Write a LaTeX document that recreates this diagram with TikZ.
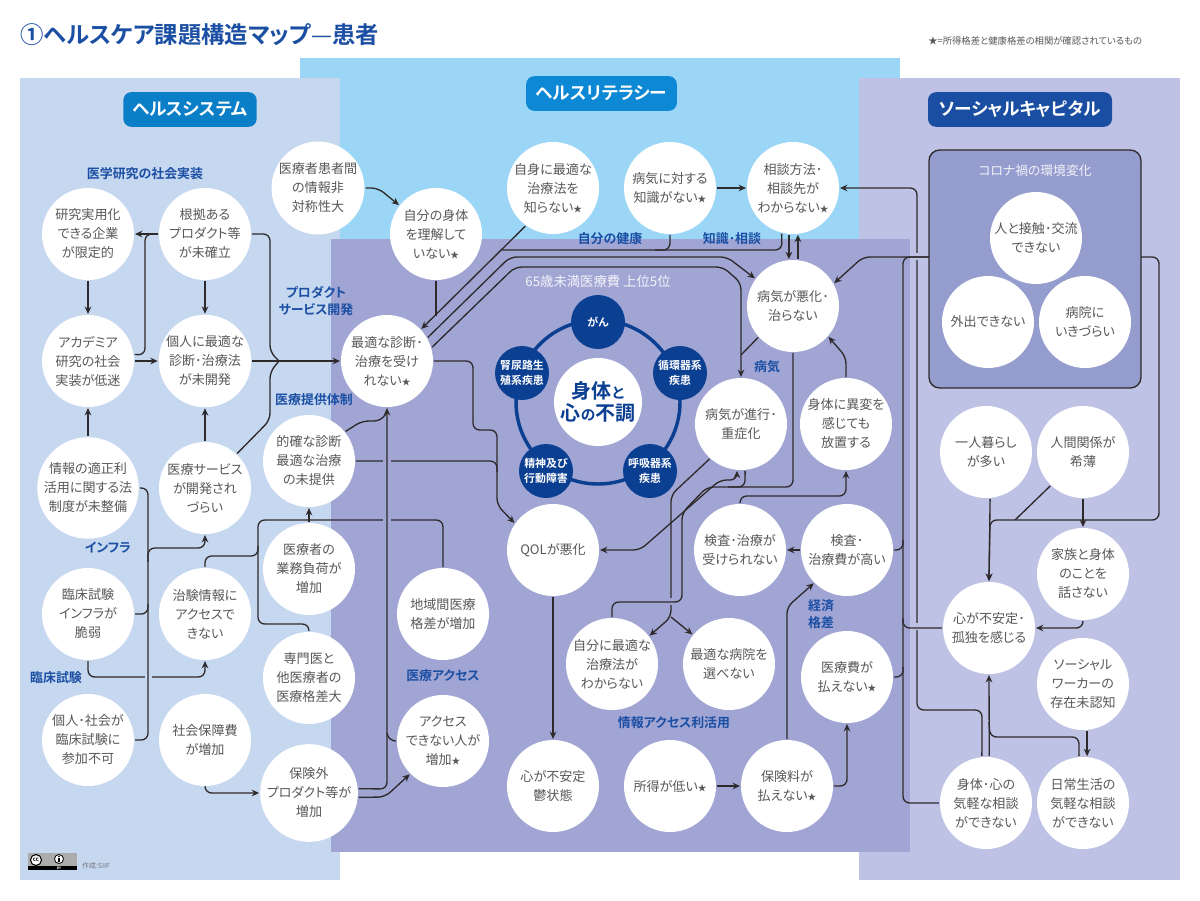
\documentclass[tikz,border=0pt]{standalone}
\usepackage{fontspec}
\setmainfont{Noto Sans CJK JP}[BoldFont={Noto Sans CJK JP Bold},RawFeature={+palt}]
\usetikzlibrary{arrows.meta,calc}
\definecolor{bghealth}{HTML}{C6D7F0}
\definecolor{bgliter}{HTML}{9BD6F6}
\definecolor{bgsocial}{HTML}{BEC2E4}
\definecolor{bgcenter}{HTML}{A1A5D4}
\definecolor{boxfill}{HTML}{959CCE}
\definecolor{cline}{HTML}{2E2A2B}
\definecolor{txt}{HTML}{595757}
\definecolor{lab}{HTML}{1B4FA3}
\definecolor{deep}{HTML}{0B3F92}
\definecolor{HeadA}{HTML}{0A7EC6}
\definecolor{HeadB}{HTML}{0D88D4}
\definecolor{HeadC}{HTML}{1A4EA2}
\newcommand{\rstar}{{\fontsize{6.5}{6.5}\selectfont ★}}
\tikzset{
 rnode/.style={circle,fill=white,text=txt,minimum size=69pt,inner sep=0pt,outer sep=.8pt,align=center,font=\fontsize{9.8}{14.25}\selectfont},
 dnode/.style={circle,fill=deep,text=white,minimum size=40.5pt,inner sep=0pt,align=center,font=\fontsize{8.2}{11.5}\selectfont\bfseries},
 lbl/.style={text=lab,align=center,inner sep=0pt,font=\fontsize{9.7}{12.8}\selectfont\bfseries},
 pill/.style={rounded corners=6pt,text=white,minimum height=26pt,inner sep=0pt,font=\fontsize{13.2}{15}\selectfont\bfseries},
 conn/.style={draw=cline,line width=1pt,rounded corners=5pt},
 arr/.style={conn,-{Stealth[length=5.5pt,width=5pt]}},
 arrs/.style={conn,{Stealth[length=5.5pt,width=5pt]}-{Stealth[length=5.5pt,width=5pt]}},
}
\begin{document}
\begin{tikzpicture}[x=.75pt,y=-.75pt]
\useasboundingbox (0,0) rectangle (1200,900);
\fill[white] (0,0) rectangle (1200,900);
% panels
\fill[bgliter] (300,58) rectangle (900,260);
\fill[bghealth] (20,78) rectangle (340,880);
\fill[bgsocial] (859,78) rectangle (1180,880);
\fill[bgcenter] (331,239) rectangle (910,852);
% title and note
\node[anchor=west,inner sep=0pt,text=lab,font=\fontsize{17.5}{20}\selectfont\bfseries] (title) at (20,35) {①ヘルスケア課題構造マップ{\mdseries —}患者};
\node[anchor=west,inner sep=0pt,text=txt,font=\fontsize{7}{8}\selectfont] (note) at (928,41) {★=所得格差と健康格差の相関が確認されているもの};
% pills
\node[pill,fill=HeadA,minimum width=100pt] (hs) at (190,109.5) {ヘルスシステム};
\node[pill,fill=HeadB,minimum width=113pt] (hl) at (601.5,93.5) {ヘルスリテラシー};
\node[pill,fill=HeadC,minimum width=138pt] (sc) at (1020,109.5) {ソーシャルキャピタル};
% covid box
\node[draw=cline,line width=1pt,fill=boxfill,rounded corners=8pt,minimum width=159pt,minimum height=178.5pt,inner sep=0pt,outer sep=0pt] (cbox) at (1035,269) {};
\coordinate (cL) at (929,257);
\coordinate (cR) at (1141,257);
% ring of the five conditions
\draw[deep,line width=2.6pt] (598,402) circle[radius=82];
\node[circle,fill=white,minimum size=66pt,inner sep=0pt,text=deep,align=center,font=\fontsize{15}{16.5}\selectfont\bfseries] (core) at (598,402) {身体{\fontsize{11}{11}\selectfont と}\\心{\fontsize{11}{11}\selectfont の}不調};
\node[dnode] (d1) at (598,322) {がん};
\node[dnode] (d2) at (680,373) {循環器系\\疾患};
\node[dnode] (d3) at (650,471) {呼吸器系\\疾患};
\node[dnode] (d4) at (546,471) {精神及び\\行動障害};
\node[dnode] (d5) at (522,373) {腎尿路生\\殖系疾患};
\node[inner sep=0pt,text=white!88!bgcenter,font=\fontsize{10}{12}\selectfont] (top5) at (598,281) {65歳未満医療費 上位5位};
\node[inner sep=0pt,text=white!88!boxfill,font=\fontsize{9.6}{12}\selectfont] (covid) at (1035,171) {コロナ禍の環境変化};
% white circles
\node[rnode] (resea) at (88,234) {研究実用化\\できる企業\\が限定的};
\node[rnode] (basis) at (205,234) {根拠ある\\プロダクト等\\が未確立};
\node[rnode] (acad) at (88,361) {アカデミア\\研究の社会\\実装が低迷};
\node[rnode] (indiv) at (205,361) {個人に最適な\\診断･治療法\\が未開発};
\node[rnode] (law) at (88,488) {情報の適正利\\活用に関する法\\制度が未整備};
\node[rnode] (medsv) at (205,488) {医療サービス\\が開発され\\づらい};
\node[rnode] (asym) at (318,188) {医療者患者間\\の情報非\\対称性大};
\node[rnode] (body) at (436,234) {自分の身体\\を理解して\\いない\rstar};
\node[rnode] (optim) at (387,361) {最適な診断･\\治療を受け\\れない\rstar};
\node[rnode] (accur) at (309,461) {的確な診断\\最適な治療\\の未提供};
\node[rnode] (burden) at (309,569) {医療者の\\業務負荷が\\増加};
\node[rnode] (spec) at (309,678) {専門医と\\他医療者の\\医療格差大};
\node[rnode] (infra) at (88,614) {臨床試験\\インフラが\\脆弱};
\node[rnode] (trial) at (205,614) {治験情報に\\アクセスで\\きない};
\node[rnode] (part) at (88,740) {個人･社会が\\臨床試験に\\参加不可};
\node[rnode] (socsec) at (205,740) {社会保障費\\が増加};
\node[rnode] (outins) at (309,793) {保険外\\プロダクト等が\\増加};
\node[rnode] (region) at (443,614) {地域間医療\\格差が増加};
\node[rnode] (access) at (443,741) {アクセス\\できない人が\\増加\rstar};
\node[rnode] (selfk) at (553,188) {自身に最適な\\治療法を\\知らない\rstar};
\node[rnode] (noknow) at (670,188) {病気に対する\\知識がない\rstar};
\node[rnode] (consult) at (793,188) {相談方法･\\相談先が\\わからない\rstar};
\node[rnode] (worse) at (793,306) {病気が悪化･\\治らない};
\node[rnode] (prog) at (741,424) {病気が進行･\\重症化};
\node[rnode] (sympt) at (846,424) {身体に異変を\\感じても\\放置する};
\node[rnode] (qol) at (553,550) {QOLが悪化};
\node[rnode] (testno) at (740,550) {検査･治療が\\受けられない};
\node[rnode] (testhi) at (847,550) {検査･\\治療費が高い};
\node[rnode] (unkn) at (612,664) {自分に最適な\\治療法が\\わからない};
\node[rnode] (hosp) at (729,664) {最適な病院を\\選べない};
\node[rnode] (nopay) at (847,677) {医療費が\\払えない\rstar};
\node[rnode] (dep) at (553,786) {心が不安定\\鬱状態};
\node[rnode] (income) at (670,786) {所得が低い\rstar};
\node[rnode] (premium) at (787,786) {保険料が\\払えない\rstar};
\node[rnode] (contact) at (1036,238) {人と接触･交流\\できない};
\node[rnode] (goout) at (988,322) {外出できない};
\node[rnode] (hospdif) at (1085,322) {病院に\\いきづらい};
\node[rnode] (alone) at (986,452) {一人暮らし\\が多い};
\node[rnode] (relat) at (1083,452) {人間関係が\\希薄};
\node[rnode] (family) at (1083,574) {家族と身体\\のことを\\話さない};
\node[rnode] (lonely) at (989,628) {心が不安定･\\孤独を感じる};
\node[rnode] (worker) at (1083,684) {ソーシャル\\ワーカーの\\存在未認知};
\node[rnode] (casual) at (986,803) {身体･心の\\気軽な相談\\ができない};
\node[rnode] (daily) at (1083,803) {日常生活の\\気軽な相談\\ができない};
\coordinate (mergeA) at (279,361);
\coordinate (ysplit) at (671,617);
\coordinate (bus) at (148,562);
% --- lines that pass under others
\draw[arr] (accur.east) -- (497,461) -- (497,505) -- (qol.145);
\draw[conn] (spec.north) -- (309,624) -- (258,624) -- (258,520) -- (443,520) -- (region.north);
\draw[arr] (infra.south) -- (88,677) -- (205,677) -- (trial.south);
\draw[arr] (prog.228) -- (671,495) -- (ysplit) -- (unkn.37);
\draw[arr] (ysplit) -- (hosp.141);
\draw[arr] (casual.95) -- (982,710) -- (917,710) -- (917,188) -- (consult.east);
% --- gaps at the crossings
\fill[bgcenter] (383,458) rectangle (391,465);
\fill[bgcenter] (383,517) rectangle (391,523);
\fill[bghealth] (144.5,674) rectangle (151.5,680);
\fill[bgcenter] (668,598) rectangle (674,605);
\fill[bgsocial] (914,253) rectangle (920,260);
\fill[bgsocial] (914,623) rectangle (920,630);
% --- connectors
\draw[arr] (basis.west) -- (resea.east);
\draw[conn] (acad.8) -- (145,355) -- (145,234) -- (basis.west);
\draw[arr] (resea.south) -- (acad.north);
\draw[arr] (basis.south) -- (indiv.north);
\draw[arr] (acad.east) -- (indiv.west);
\draw[arr] (indiv.east) -- (optim.west);
\draw[conn] (basis.east) -- (270,234) -- (270,352) -- (mergeA);
\draw[conn] (medsv.47) -- (270,420) -- (270,372) -- (mergeA);
\draw[arr] (law.north) -- (acad.south);
\draw[arr] (medsv.north) -- (indiv.south);
\draw[conn] (accur.39) -- (362,421) -- (381,421) -- (387,412);
\draw[arr] (outins.5) -- (387,789) -- (optim.south);
\draw[arr] (outins.-5) -- (385,797) -- (access.225);
\draw[conn] (access.west) -- (389,741) -- (387,733);
\draw[conn] (optim.east) -- (473,361) -- (473,430) -- (497,430) -- (497,472);
\draw[conn] (body.south) -- (436,316);
\draw[arr] (selfk.234) -- (optim.43);
\draw[conn] (noknow.south) -- (670,250) -- (655,250);
\draw[conn] (consult.256) -- (782,250) -- (502,250);
\draw[arr] (optim.30) -- (510,257) -- (727,257) -- (worse.144);
\draw[arr] (optim.17) -- (515,267) -- (723,267) -- (741,283) -- (prog.north);
\draw[conn] (worse.222) -- (741,355);
\draw[arr] (consult.265) -- (worse.95);
\draw[arr] (worse.84) -- (consult.276);
\draw[arr] (noknow.east) -- (consult.west);
\draw[arr] (cL) -- (863,257) -- (worse.29);
\draw[conn] (cL) -- (903,257) -- (903,803) -- (casual.west);
\draw[conn] (lonely.west) -- (903,628) -- (903,618);
\draw[conn] (testhi.east) -- (903,550) -- (903,540);
\draw[conn] (nopay.east) -- (903,677) -- (903,667);
\draw[conn] (relat.226) -- (1015,520);
\draw[arr] (cR) -- (1159,257) -- (1159,520) -- (990,520) -- (lonely.north);
\draw[arr] (alone.275) -- (lonely.north);
\draw[arr] (relat.south) -- (family.north);
\draw[arr] (family.south) -- (1083,628) -- (lonely.east);
\draw[arr] (worker.275) -- (daily.85);
\draw[conn] (daily.95) -- (1079,737) -- (990,737) -- (989,722);
\draw[arr] (casual.86) -- (lonely.south);
\draw[conn] (worse.south) -- (793,487) -- (707,487) -- (682,513) -- (682,602) -- (612,602) -- (unkn.north);
\draw[arrs] (qol.east) -- (640,550) -- (720,480) -- (737,480) -- (prog.265);
\draw[conn] (prog.-85) -- (745,487) -- (728,487);
\draw[arr] (testno.north) -- (740,496) -- (846,496) -- (sympt.south);
\draw[arr] (testhi.west) -- (testno.east);
\draw[arr] (sympt.north) -- (846,357) -- (worse.-41);
\draw[arr] (premium.north) -- (787,607) -- (testhi.225);
\draw[arr] (premium.east) -- (847,786) -- (nopay.south);
\draw[arr] (income.east) -- (premium.west);
\draw[arr] (qol.south) -- (dep.north);
\draw[conn] (law.east) -- (148,488) -- (148,740) -- (part.east);
\draw[conn] (infra.east) -- (148,614) -- (148,604);
\draw[arr] (bus) -- (148,548) -- (205,548) -- (medsv.south);
\draw[conn] (trial.north) -- (205,556) -- (258,556) -- (258,546);
\draw[arr] (burden.north) -- (accur.south);
\draw[arr] (socsec.south) -- (205,793) -- (outins.west);
\draw[arr] (asym.east) -- (378,188) -- (body.142);
% --- blue group labels
\node[lbl] (l1) at (145,174) {医学研究の社会実装};
\node[lbl] (l2) at (316,301) {プロダクト\\サービス開発};
\node[lbl] (l3) at (314,400) {医療提供体制};
\node[lbl] (l4) at (108,548) {インフラ};
\node[lbl] (l5) at (56,678) {臨床試験};
\node[lbl] (l6) at (443,676) {医療アクセス};
\node[lbl] (l7) at (610,239) {自分の健康};
\node[lbl] (l8) at (732,239) {知識･相談};
\node[lbl] (l9) at (767,367) {病気};
\node[lbl] (l10) at (674,723) {情報アクセス利活用};
\node[lbl] (l11) at (821,614) {経済\\格差};
% --- licence badge
\fill[gray!65] (28,853) rectangle (77,870);
\fill[black] (28,866) rectangle (77,870);
\draw[black,fill=white,line width=.8pt] (36,860) circle[radius=5.5];
\node[inner sep=0pt,font=\fontsize{4.5}{5}\selectfont\bfseries] (cc) at (36,860) {cc};
\draw[black,fill=white,line width=.6pt] (59,859) circle[radius=4.5];
\fill[black] (59,856.5) circle[radius=.9];
\fill[black] (57.8,858) rectangle (60.2,862);
\node[inner sep=0pt,text=white,font=\fontsize{2.5}{3}\selectfont\bfseries] (by) at (59,868) {BY};
\node[inner sep=0pt,text=txt!75!bghealth,font=\fontsize{5.2}{6}\selectfont] (credit) at (96,866) {作成:SIIF};
\end{tikzpicture}
\end{document}
